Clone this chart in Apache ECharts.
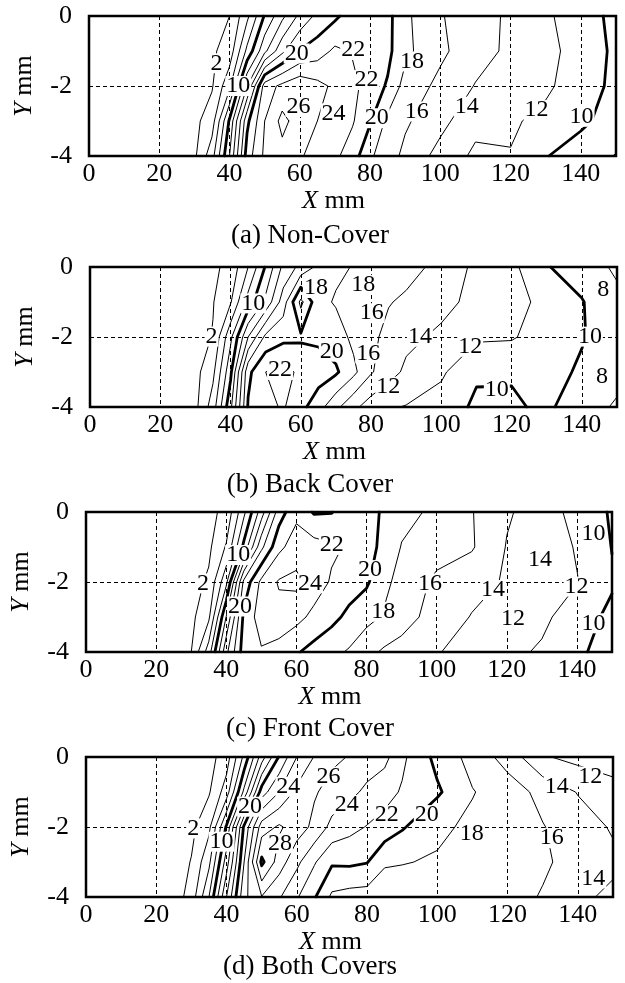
<!DOCTYPE html>
<html>
<head>
<meta charset="utf-8">
<title>Contour maps</title>
<script src="https://cdn.jsdelivr.net/npm/echarts@6/dist/echarts.min.js"></script>
<style>
  html, body { margin: 0; padding: 0; background: #fff; }
  #chart { width: 625px; height: 983px; }
</style>
</head>
<body>
<div id="chart"></div>
<script>
// measuring grid (mm)
var xs = [0, 20, 25, 30, 35, 40, 45, 50, 55, 60, 65, 70, 75, 80, 85, 90, 100, 110, 120, 130, 140, 150];
var ys = [0, -1, -2, -3, -4];
var levels = [2, 4, 6, 8, 10, 12, 14, 16, 18, 20, 22, 24, 26, 28, 30];
var boldLevels = [10, 20, 30];
var captions = ['(a) Non-Cover', '(b) Back Cover', '(c) Front Cover', '(d) Both Covers'];

// field values, one row per y in ys
var fieldA = [
  [0.2, 0.5, 0.8, 1.2, 1.6, 2.0, 5.5, 10.2, 13.5, 16.5, 18.5, 19.6, 21.0, 21.2, 20.6, 18.4, 16.2, 14.5, 13.8, 12.4, 10.7, 9.6],
  [0.2, 0.5, 0.8, 1.2, 1.7, 2.8, 8.5, 13.5, 17.5, 20.1, 21.0, 22.4, 21.8, 21.5, 20.5, 18.5, 16.4, 14.8, 13.6, 12.8, 10.9, 9.7],
  [0.2, 0.5, 0.8, 1.3, 1.8, 5.5, 14.0, 23.0, 24.5, 25.5, 24.6, 23.6, 22.6, 21.0, 19.8, 17.2, 15.5, 13.9, 13.2, 12.4, 10.8, 9.6],
  [0.2, 0.5, 0.9, 1.5, 3.0, 10.3, 19.5, 24.0, 26.6, 25.0, 24.0, 23.2, 22.2, 20.2, 17.5, 16.3, 14.6, 12.6, 12.3, 11.4, 10.4, 9.1],
  [0.2, 0.5, 0.8, 1.6, 5.2, 12.0, 21.0, 24.4, 25.3, 24.2, 23.3, 22.4, 21.0, 18.3, 16.9, 15.5, 13.3, 11.6, 11.9, 10.1, 9.0, 7.9]
];
var fieldB = [
  [0.2, 0.5, 0.8, 1.1, 1.6, 2.6, 6.0, 10.2, 14.5, 16.6, 18.5, 18.4, 17.9, 17.6, 17.2, 16.6, 15.5, 13.5, 12.5, 10.1, 9.2, 7.6],
  [0.2, 0.5, 0.8, 1.2, 1.9, 3.8, 8.8, 12.5, 17.0, 22.5, 18.6, 17.8, 17.5, 16.5, 16.1, 15.7, 14.6, 13.4, 12.6, 11.5, 10.1, 8.6],
  [0.2, 0.5, 0.8, 1.2, 2.1, 7.5, 14.0, 18.5, 19.4, 19.7, 19.6, 19.0, 17.5, 16.4, 15.5, 14.5, 13.6, 12.3, 12.2, 11.0, 10.1, 9.2],
  [0.2, 0.5, 0.8, 1.4, 3.5, 9.5, 19.5, 22.0, 22.8, 21.5, 21.0, 20.3, 18.5, 16.2, 14.8, 13.6, 12.3, 10.3, 10.2, 10.5, 9.8, 8.5],
  [0.2, 0.5, 0.9, 1.5, 5.0, 11.5, 20.2, 21.5, 22.2, 20.6, 18.8, 16.5, 14.5, 13.0, 12.2, 11.9, 11.2, 9.6, 9.7, 10.4, 8.7, 7.8]
];
var fieldC = [
  [0.2, 0.5, 0.8, 1.1, 1.5, 2.5, 7.5, 13.0, 19.0, 21.5, 19.8, 19.9, 21.2, 20.8, 19.7, 18.6, 17.6, 16.1, 14.2, 13.2, 11.2, 9.8],
  [0.2, 0.5, 0.8, 1.2, 1.6, 4.2, 10.5, 17.5, 21.5, 23.0, 22.8, 22.3, 21.8, 20.7, 19.5, 17.9, 16.8, 16.2, 13.9, 13.5, 11.8, 9.95],
  [0.2, 0.5, 0.8, 1.3, 2.3, 7.5, 18.5, 22.5, 24.2, 24.5, 23.0, 21.8, 21.0, 20.3, 18.5, 17.3, 15.6, 14.7, 13.8, 13.0, 12.1, 10.2],
  [0.2, 0.5, 0.9, 1.5, 3.6, 12.1, 20.5, 23.0, 23.3, 22.6, 21.5, 20.6, 19.5, 18.6, 17.8, 16.8, 15.2, 13.9, 13.2, 12.5, 10.8, 9.6],
  [0.2, 0.5, 1.0, 1.98, 7.0, 15.5, 21.0, 21.8, 21.2, 20.2, 19.3, 18.5, 17.8, 16.6, 15.7, 15.3, 14.1, 13.4, 12.6, 11.7, 10.3, 9.3]
];
var fieldD = [
  [0.2, 0.5, 0.8, 1.1, 1.3, 3.0, 8.5, 15.0, 20.2, 24.0, 26.1, 26.4, 25.9, 25.0, 24.6, 22.4, 19.4, 17.3, 15.2, 12.2, 11.4, 11.2],
  [0.2, 0.5, 0.8, 1.2, 1.8, 5.0, 12.5, 21.0, 24.0, 26.5, 26.2, 25.3, 24.5, 23.6, 22.7, 21.8, 20.3, 18.1, 17.0, 15.4, 13.9, 12.6],
  [0.2, 0.5, 0.8, 1.5, 3.5, 10.3, 20.4, 27.0, 28.3, 27.0, 25.5, 23.4, 22.6, 21.9, 21.3, 20.2, 18.4, 17.6, 17.0, 16.1, 14.9, 13.8],
  [0.2, 0.5, 0.9, 2.1, 5.5, 13.0, 22.0, 30.5, 27.0, 24.5, 22.2, 20.3, 20.4, 20.1, 18.2, 18.1, 17.8, 17.2, 16.6, 16.2, 15.5, 14.4],
  [0.2, 0.5, 1.0, 2.8, 8.0, 16.0, 23.5, 25.9, 24.2, 22.2, 20.2, 17.6, 17.2, 17.1, 17.0, 16.9, 16.8, 16.7, 16.5, 15.9, 14.4, 13.6]
];

// contour labels: [x, y, text]
var labelsA = [[36.3, -1.35, '2'], [42.5, -2.0, '10'], [59.1, -1.07, '20'], [59.6, -2.6, '26'], [75.2, -0.97, '22'],
  [79.0, -1.83, '22'], [91.9, -1.3, '18'], [69.6, -2.78, '24'], [81.9, -2.92, '20'], [93.3, -2.73, '16'],
  [107.5, -2.59, '14'], [127.4, -2.69, '12'], [140.2, -2.88, '10']];
var labelsB = [[46.5, -1.04, '10'], [34.6, -1.99, '2'], [54.1, -2.94, '22'], [64.3, -0.6, '18'], [77.8, -0.51, '18'],
  [80.2, -1.32, '16'], [68.8, -2.42, '20'], [79.2, -2.47, '16'], [93.9, -1.99, '14'], [108.2, -2.28, '12'],
  [84.9, -3.42, '12'], [115.8, -3.51, '10'], [142.3, -1.99, '10'], [146.1, -0.66, '8'], [145.7, -3.13, '8']];
var labelsC = [[43.4, -1.23, '10'], [33.4, -2.04, '2'], [43.9, -2.7, '20'], [63.9, -2.04, '24'], [70.1, -0.94, '22'],
  [81.0, -1.66, '20'], [84.8, -2.85, '18'], [98.1, -2.04, '16'], [116.1, -2.23, '14'], [129.5, -1.37, '14'],
  [139.9, -2.13, '12'], [121.8, -3.04, '12'], [144.7, -0.61, '10'], [144.7, -3.18, '10']];
var labelsD = [[57.6, -0.85, '24'], [46.7, -1.42, '20'], [30.5, -2.04, '2'], [38.6, -2.42, '10'], [55.2, -2.47, '28'],
  [69.0, -0.56, '26'], [74.2, -1.37, '24'], [85.6, -1.66, '22'], [97.0, -1.66, '20'], [109.8, -2.18, '18'],
  [132.6, -2.32, '16'], [134.0, -0.85, '14'], [143.5, -0.56, '12'], [144.4, -3.47, '14']];

var fields = [fieldA, fieldB, fieldC, fieldD];
var labelSets = [labelsA, labelsB, labelsC, labelsD];

// panel layout (px)
var panels = [
  { left: 89, top: 16, width: 527, captionY: 236 },
  { left: 90, top: 267, width: 527, captionY: 485 },
  { left: 86, top: 512, width: 526, captionY: 729 },
  { left: 86, top: 757, width: 527, captionY: 967 }
];
var plotH = 140;
var FONT = '"Liberation Serif", "Times New Roman", serif';

// marching squares on the rectilinear grid
function contourSegments(field, level) {
  var segs = [];
  for (var j = 0; j < ys.length - 1; j++) {
    for (var i = 0; i < xs.length - 1; i++) {
      var c = [
        [xs[i], ys[j], field[j][i]],
        [xs[i + 1], ys[j], field[j][i + 1]],
        [xs[i + 1], ys[j + 1], field[j + 1][i + 1]],
        [xs[i], ys[j + 1], field[j + 1][i]]
      ];
      var pts = [];
      for (var k = 0; k < 4; k++) {
        var p = c[k], q = c[(k + 1) % 4];
        if ((p[2] >= level) !== (q[2] >= level)) {
          var t = (level - p[2]) / (q[2] - p[2]);
          pts.push([p[0] + t * (q[0] - p[0]), p[1] + t * (q[1] - p[1])]);
        } else {
          pts.push(null);
        }
      }
      var e = pts.filter(function (v) { return v; });
      if (e.length === 2) {
        segs.push(e);
      } else if (e.length === 4) {
        // saddle
        var mid = (c[0][2] + c[1][2] + c[2][2] + c[3][2]) / 4;
        if ((c[0][2] >= level) === (mid >= level)) {
          segs.push([pts[0], pts[1]], [pts[2], pts[3]]);
        } else {
          segs.push([pts[3], pts[0]], [pts[1], pts[2]]);
        }
      }
    }
  }
  return segs;
}

// join segments into polylines
function stitch(segs) {
  var key = function (p) { return p[0].toFixed(3) + ',' + p[1].toFixed(3); };
  var used = segs.map(function () { return false; });
  var out = [];
  for (var s = 0; s < segs.length; s++) {
    if (used[s]) continue;
    used[s] = true;
    var line = [segs[s][0], segs[s][1]];
    var grown = true;
    while (grown) {
      grown = false;
      for (var t = 0; t < segs.length; t++) {
        if (used[t]) continue;
        var a = segs[t][0], b = segs[t][1];
        var head = key(line[0]), tail = key(line[line.length - 1]);
        if (key(a) === tail) line.push(b);
        else if (key(b) === tail) line.push(a);
        else if (key(a) === head) line.unshift(b);
        else if (key(b) === head) line.unshift(a);
        else continue;
        used[t] = true;
        grown = true;
      }
    }
    out.push({ coords: line });
  }
  return out;
}

var grids = [], xAxes = [], yAxes = [], series = [], graphics = [];

panels.forEach(function (pn, p) {
  grids.push({
    left: pn.left, top: pn.top, width: pn.width, height: plotH,
    show: true, borderColor: '#000', borderWidth: 2.5, backgroundColor: 'transparent'
  });
  xAxes.push({
    type: 'value', gridIndex: p, min: 0, max: 150, interval: 20,
    name: '{i|X} mm', nameLocation: 'middle', nameGap: 28,
    nameTextStyle: {
      color: '#000', fontFamily: FONT, fontSize: 26, padding: [0, 38, 0, 0],
      rich: { i: { fontStyle: 'italic', fontFamily: FONT, fontSize: 26, color: '#000' } }
    },
    axisLine: { show: false },
    axisTick: { show: false },
    axisLabel: { color: '#000', fontFamily: FONT, fontSize: 26, margin: 5, showMaxLabel: false },
    splitLine: { show: true, lineStyle: { color: '#000', width: 1, type: [4, 3] } }
  });
  yAxes.push({
    type: 'value', gridIndex: p, min: -4, max: 0, interval: 2,
    name: '{i|Y} mm', nameLocation: 'middle', nameRotate: 90, nameGap: 52,
    nameTextStyle: {
      color: '#000', fontFamily: FONT, fontSize: 26,
      rich: { i: { fontStyle: 'italic', fontFamily: FONT, fontSize: 26, color: '#000' } }
    },
    axisLine: { show: false },
    axisTick: { show: false },
    axisLabel: { color: '#000', fontFamily: FONT, fontSize: 26, margin: 17 },
    splitLine: { show: true, lineStyle: { color: '#000', width: 1, type: [4, 3] } }
  });

  var thin = [], bold = [];
  levels.forEach(function (lv) {
    var lines = stitch(contourSegments(fields[p], lv));
    if (boldLevels.indexOf(lv) >= 0) bold = bold.concat(lines);
    else thin = thin.concat(lines);
  });
  series.push({
    type: 'lines', coordinateSystem: 'cartesian2d', xAxisIndex: p, yAxisIndex: p,
    polyline: true, silent: true, z: 3, data: thin,
    lineStyle: { color: '#000', width: 1, opacity: 1, cap: 'round', join: 'round' }
  });
  series.push({
    type: 'lines', coordinateSystem: 'cartesian2d', xAxisIndex: p, yAxisIndex: p,
    polyline: true, silent: true, z: 4, data: bold,
    lineStyle: { color: '#000', width: 2.8, opacity: 1, cap: 'round', join: 'round' }
  });
  series.push({
    type: 'scatter', xAxisIndex: p, yAxisIndex: p, silent: true, z: 6,
    symbolSize: 0, itemStyle: { color: '#000', opacity: 1 },
    data: labelSets[p].map(function (d) { return [d[0], d[1], d[2]]; }),
    label: {
      show: true, position: 'inside', color: '#000', fontFamily: FONT, fontSize: 24,
      textBorderWidth: 0, backgroundColor: '#fff', padding: [0, 1], lineHeight: 20, opacity: 1,
      formatter: function (prm) { return prm.value[2]; }
    }
  });

  graphics.push({
    type: 'text', x: 310, y: pn.captionY,
    style: { text: captions[p], font: '27px ' + FONT, fill: '#000', textAlign: 'center', verticalAlign: 'middle' }
  });
});

var chart = echarts.init(document.getElementById('chart'), null, { renderer: 'canvas' });
chart.setOption({
  animation: false,
  backgroundColor: '#fff',
  grid: grids,
  xAxis: xAxes,
  yAxis: yAxes,
  series: series,
  graphic: graphics
});
</script>
</body>
</html>
